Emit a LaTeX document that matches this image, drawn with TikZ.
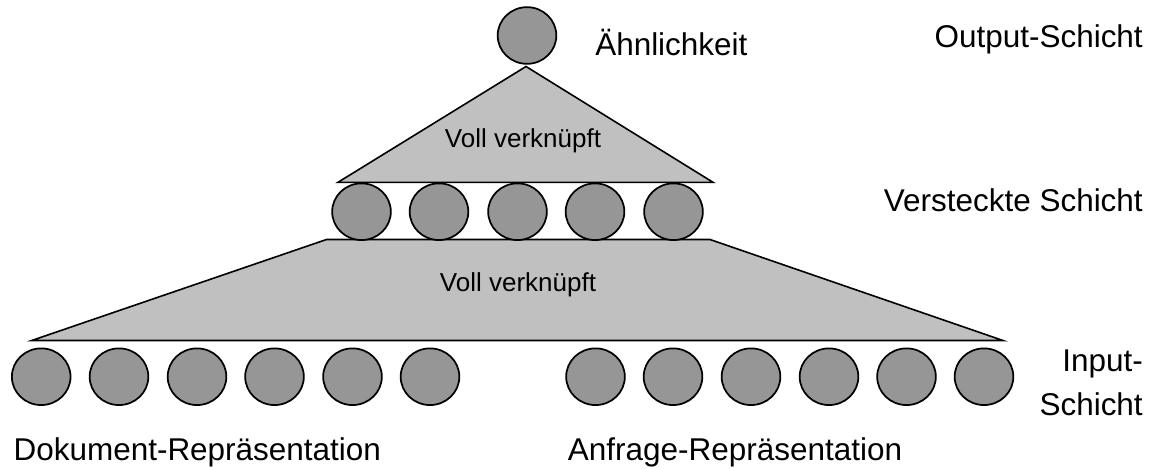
\documentclass[tikz,border=0pt]{standalone}
\usepackage{fontspec}
\setmainfont{Liberation Sans}
\usetikzlibrary{shapes.geometric}
\definecolor{unitgray}{RGB}{150,150,150}
\definecolor{layergray}{RGB}{192,192,192}
\tikzset{
  unit/.style={ellipse, draw=black, line width=1.3pt, fill=unitgray,
    minimum width=44pt, minimum height=42.5pt, inner sep=0pt},
  layer/.style={draw=black, line width=1.2pt, fill=layergray, line join=miter},
  lbl/.style={inner sep=0pt, font=\fontsize{23.6}{32.4}\selectfont},
  conn/.style={inner sep=0pt, font=\fontsize{19.5}{23}\selectfont}
}
\begin{document}
\begin{tikzpicture}[x=0.75pt,y=-0.75pt]
\useasboundingbox (0,0) rectangle (1152,468);
% layer shapes
\coordinate (apex) at (526,66.5);
\coordinate (tbl) at (338,182.3);
\coordinate (tbr) at (713,182.3);
\draw[layer] (apex) -- (tbr) -- (tbl) -- cycle;
\coordinate (ztl) at (326.5,239.5);
\coordinate (ztr) at (710,239.5);
\coordinate (zbr) at (1003,340.5);
\coordinate (zbl) at (31.7,340.5);
\draw[layer] (ztl) -- (ztr) -- (zbr) -- (zbl) -- cycle;
\node[conn] (vv1) at (523,141) {Voll verknüpft};
\node[conn] (vv2) at (518,285) {Voll verknüpft};
% output
\node[unit] (out) at (527,35.5) {};
% hidden
\foreach \x [count=\i] in {361.5,439,517.5,595,673.5}
  \node[unit] (h\i) at (\x,211.7) {};
% inputs
\foreach \x [count=\i] in {41.2,119,197,274.5,352.5,430}
  \node[unit] (d\i) at (\x,376.7) {};
\foreach \x [count=\i] in {595.5,673,751,829,906.5,984}
  \node[unit] (q\i) at (\x,376.7) {};
% labels
\node[lbl, anchor=base west] (sim) at (595,55) {Ähnlichkeit};
\node[lbl, anchor=base east] (outl) at (1143,47.3) {Output-Schicht};
\node[lbl, anchor=base east] (hidl) at (1143,211.7) {Versteckte Schicht};
\node[lbl, anchor=north east, align=right] (inl) at (1143,350) {Input-\\Schicht};
\node[lbl, anchor=base] (dok) at (197.3,460) {Dokument-Repräsentation};
\node[lbl, anchor=base] (anf) at (735,460) {Anfrage-Repräsentation};
\end{tikzpicture}
\end{document}
